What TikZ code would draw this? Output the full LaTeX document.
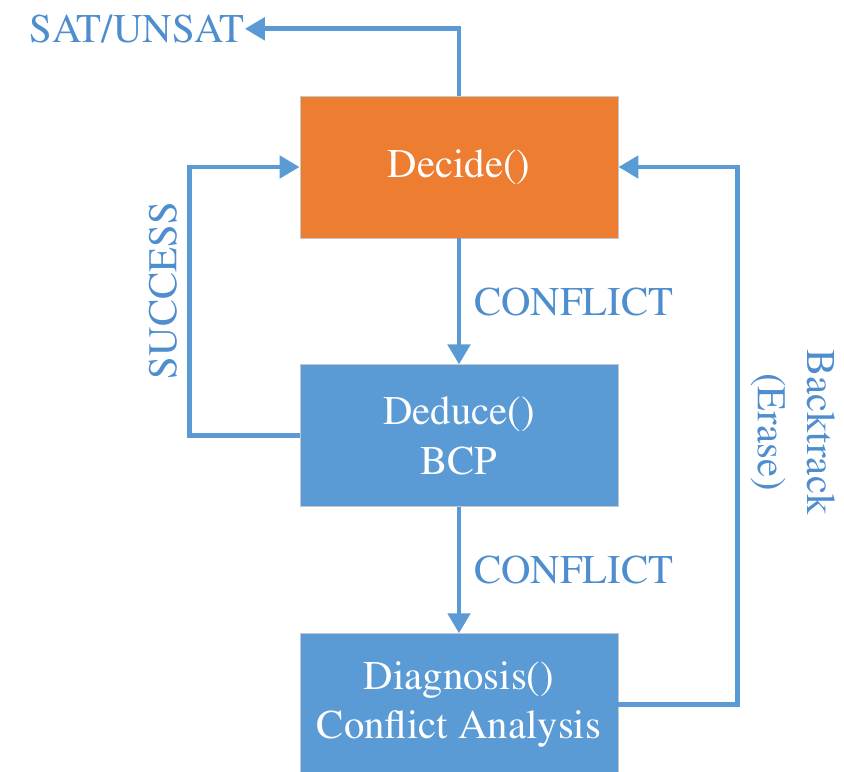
\documentclass[tikz,border=0pt]{standalone}
\usepackage[T1]{fontenc}
\renewcommand{\rmdefault}{ptm}
\usetikzlibrary{
    arrows.meta,
    positioning,
    calc
}
\definecolor{satorange}{HTML}{ED7D31}
\definecolor{satblue}{HTML}{5B9BD5}
\definecolor{labelblue}{HTML}{4E8ECF}
\definecolor{edgegray}{HTML}{C4C8CC}

\begin{document}
\begin{tikzpicture}[
    node distance=3.15cm,
    every node/.style={font=\rmfamily\fontsize{29}{35}\selectfont},
    procbox/.style={
        rectangle,
        minimum width=7.95cm,
        minimum height=3.55cm,
        align=center,
        text=white,
        draw=edgegray,
        line width=0.6pt,
        fill=#1
    },
    flowlabel/.style={
        text=labelblue,
        align=center,
        inner sep=0pt
    },
    arrow/.style={
        -{Triangle[length=5mm,width=5.5mm]},
        line width=3.5pt,
        draw=satblue
    }
]
\useasboundingbox (0,0) rectangle (21.1,-19.275);

% =====================================================
% Solver steps
% =====================================================

\node[procbox=satorange] (decide) at (11.475,-4.175)
{Decide()};

\node[procbox=satblue, below=of decide] (deduce)
{Deduce()\\BCP};

\node[procbox=satblue, below=of deduce] (diagnose)
{Diagnosis()\\Conflict Analysis};

\node[flowlabel, anchor=east] (sat) at (6.12,-0.72)
{SAT/UNSAT};

% =====================================================
% Loop corners
% =====================================================

\coordinate (lcorner) at ($(deduce.west)+(-2.75,0)$);
\coordinate (ltop) at (lcorner |- decide.west);
\coordinate (rcorner) at ($(diagnose.east)+(2.975,0)$);
\coordinate (rtop) at (rcorner |- decide.east);

% =====================================================
% Arrows
% =====================================================

\draw[arrow] (decide.north) |- (sat.east);

\draw[arrow] (decide) -- node[flowlabel, right=0.32cm] {CONFLICT} (deduce);
\draw[arrow] (deduce) -- node[flowlabel, right=0.32cm] {CONFLICT} (diagnose);

\draw[arrow] (deduce.west) -- (lcorner)
    -- node[flowlabel, pos=0.54, sloped, above=0.26cm] {SUCCESS} (ltop)
    -- (decide.west);

\draw[arrow] (diagnose.east) -- (rcorner) -- (rtop) -- (decide.east);

\node[flowlabel, rotate=-90, anchor=south] (backlbl)
    at ($(rcorner)!0.5!(rtop)+(0.32,0.1)$) {Backtrack\\(Erase)};

\end{tikzpicture}
\end{document}
